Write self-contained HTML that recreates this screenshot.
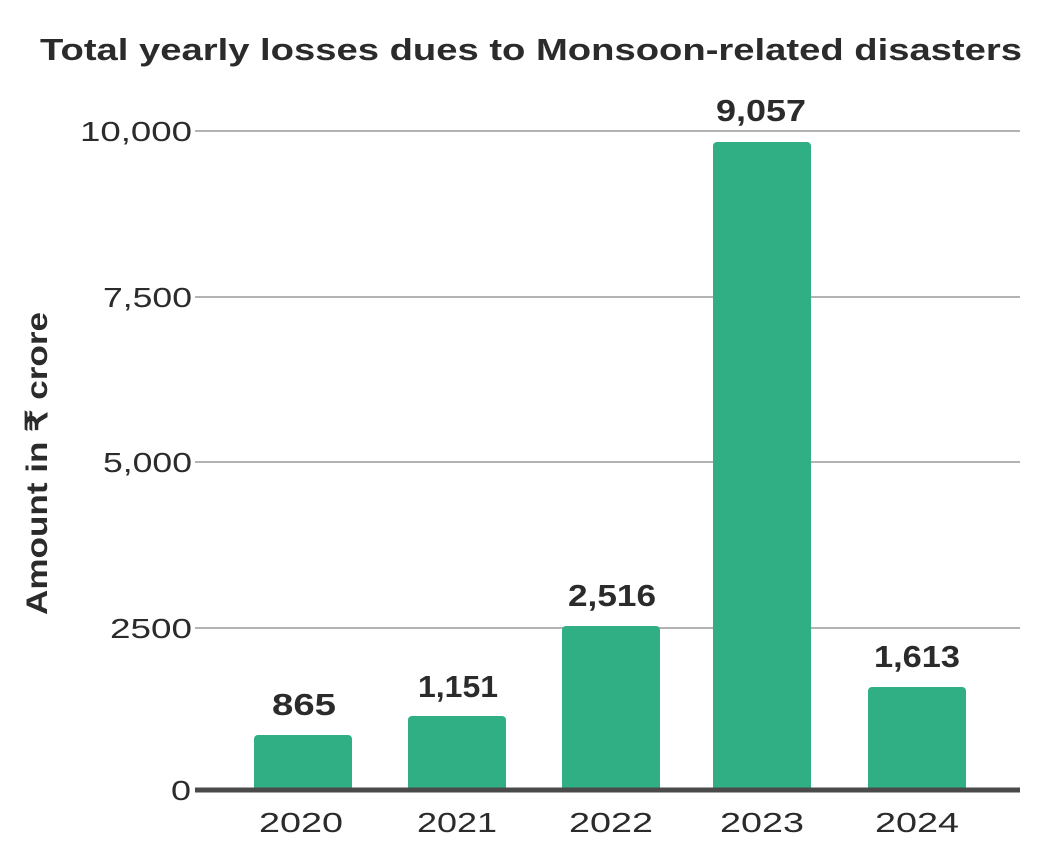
<!DOCTYPE html>
<html><head><meta charset="utf-8"><style>
html,body{margin:0;padding:0;background:#fff;}
svg{display:block;}
text{font-family:"Liberation Sans",sans-serif;fill:#2b2b2b;}
</style></head><body>
<svg width="1053" height="864" viewBox="0 0 1053 864" xmlns="http://www.w3.org/2000/svg">
<text x="40" y="60" font-size="31" font-weight="bold" fill="#1a1a1a" textLength="982" lengthAdjust="spacingAndGlyphs">Total yearly losses dues to Monsoon-related disasters</text>
<g stroke="#b3b3b3" stroke-width="2">
<line x1="195" y1="131" x2="1020" y2="131"/>
<line x1="195" y1="297" x2="1020" y2="297"/>
<line x1="195" y1="462" x2="1020" y2="462"/>
<line x1="195" y1="628" x2="1020" y2="628"/>
</g>
<g font-size="28" fill="#333">
<text x="80" y="141" textLength="112" lengthAdjust="spacingAndGlyphs">10,000</text>
<text x="103" y="307" textLength="89" lengthAdjust="spacingAndGlyphs">7,500</text>
<text x="103" y="472" textLength="89" lengthAdjust="spacingAndGlyphs">5,000</text>
<text x="110" y="638" textLength="82" lengthAdjust="spacingAndGlyphs">2500</text>
<text x="171" y="800" textLength="20" lengthAdjust="spacingAndGlyphs">0</text>
</g>
<text transform="translate(47,615) rotate(-90)" font-size="30" font-weight="bold" fill="#333" textLength="303" lengthAdjust="spacingAndGlyphs">Amount in ₹ crore</text>
<g fill="#30ae84">
<rect x="254" y="735" width="98" height="57" rx="4"/>
<rect x="408" y="716" width="98" height="76" rx="4"/>
<rect x="562" y="626" width="98" height="166" rx="4"/>
<rect x="713" y="142" width="98" height="650" rx="4"/>
<rect x="868" y="687" width="98" height="105" rx="4"/>
</g>
<line x1="195" y1="790" x2="1020" y2="790" stroke="#4a4a4a" stroke-width="5"/>
<g font-size="31" font-weight="bold" fill="#2b2b2b">
<text x="272" y="715" textLength="64" lengthAdjust="spacingAndGlyphs">865</text>
<text x="418" y="697" textLength="80" lengthAdjust="spacingAndGlyphs">1,151</text>
<text x="568" y="606" textLength="88" lengthAdjust="spacingAndGlyphs">2,516</text>
<text x="716" y="121" textLength="90" lengthAdjust="spacingAndGlyphs">9,057</text>
<text x="874" y="667" textLength="86" lengthAdjust="spacingAndGlyphs">1,613</text>
</g>
<g font-size="28" fill="#333">
<text x="259" y="832" textLength="84" lengthAdjust="spacingAndGlyphs">2020</text>
<text x="417" y="832" textLength="80" lengthAdjust="spacingAndGlyphs">2021</text>
<text x="569" y="832" textLength="84" lengthAdjust="spacingAndGlyphs">2022</text>
<text x="720" y="832" textLength="84" lengthAdjust="spacingAndGlyphs">2023</text>
<text x="875" y="832" textLength="84" lengthAdjust="spacingAndGlyphs">2024</text>
</g>
</svg>
</body></html>
